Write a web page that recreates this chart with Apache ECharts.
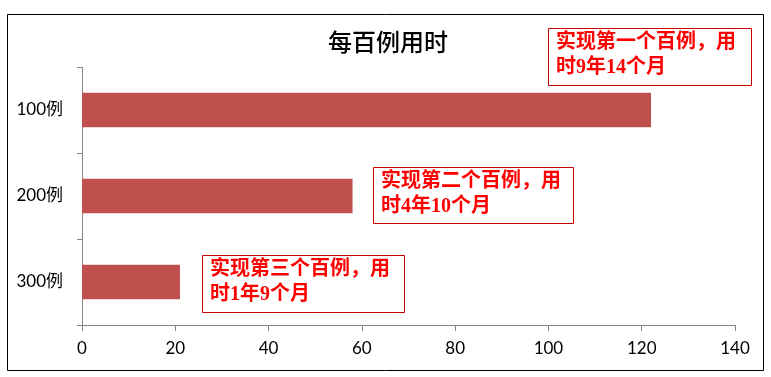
<!DOCTYPE html>
<html>
<head>
<meta charset="utf-8">
<script src="https://cdn.jsdelivr.net/npm/echarts@6/dist/echarts.min.js"></script>
<style>
  html, body { margin: 0; padding: 0; background: #fff; }
  #chart { width: 771px; height: 377px; }
</style>
</head>
<body>
<div id="chart"></div>
<script>
// data
var categories = ["100例", "200例", "300例"];
var values = [122, 58, 21];
var xTicks = [0, 20, 40, 60, 80, 100, 120, 140];
var notes = [
  "实现第一个百例，用\n时9年14个月",
  "实现第二个百例，用\n时4年10个月",
  "实现第三个百例，用\n时1年9个月"
];

var chart = echarts.init(document.getElementById("chart"));

// annotation boxes (Excel text boxes, placed by hand)
var boxes = [
  { x: 548, y: 28, w: 203, h: 57 },
  { x: 373, y: 167, w: 200, h: 56 },
  { x: 202, y: 255, w: 202, h: 57 }
];
var graphics = [{
  type: "rect",
  shape: { x: 7.5, y: 14.5, width: 756, height: 356 },
  style: { fill: "none", stroke: "#000", lineWidth: 1 },
  silent: true
}];
boxes.forEach(function (b, i) {
  graphics.push({
    type: "rect",
    shape: { x: b.x + 0.5, y: b.y + 0.5, width: b.w, height: b.h },
    style: { fill: "#fff", stroke: "#cc0000", lineWidth: 1 },
    z: 10
  });
  graphics.push({
    type: "text",
    left: b.x + 8,
    top: b.y + 2,
    style: {
      text: notes[i],
      fill: "#ff0000",
      font: "bold 20px 'Liberation Serif', 'Noto Sans CJK SC'",
      lineHeight: 25
    },
    z: 11
  });
});

chart.setOption({
  animation: false,
  title: {
    text: "每百例用时",
    left: 383,
    top: 25,
    textAlign: "center",
    textStyle: {
      fontSize: 24,
      fontWeight: 500,
      color: "#000",
      fontFamily: "'Noto Sans CJK SC'"
    }
  },
  grid: {
    left: 82,
    right: 36,
    top: 67,
    bottom: 52
  },
  xAxis: {
    type: "value",
    min: xTicks[0],
    max: xTicks[xTicks.length - 1],
    interval: 20,
    axisLine: { show: true, lineStyle: { color: "#868686" } },
    axisTick: { show: true, length: 6, lineStyle: { color: "#868686" } },
    splitLine: { show: false },
    axisLabel: {
      margin: 15,
      fontSize: 17,
      color: "#000",
      fontFamily: "Lato, 'Noto Sans CJK SC'"
    }
  },
  yAxis: {
    type: "category",
    data: categories,
    inverse: true,
    axisLine: { show: true, lineStyle: { color: "#868686" } },
    axisTick: { show: true, length: 5, lineStyle: { color: "#868686" } },
    axisLabel: {
      margin: 19,
      fontSize: 17,
      color: "#000",
      fontFamily: "Lato, 'Noto Sans CJK SC'"
    }
  },
  series: [{
    type: "bar",
    data: values,
    barWidth: "40%",
    itemStyle: { color: "#c0504d" }
  }],
  graphic: graphics
});
</script>
</body>
</html>
